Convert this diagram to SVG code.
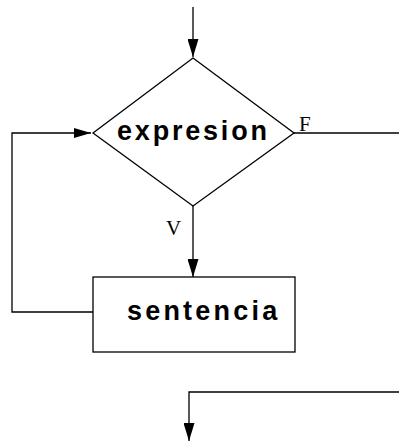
<svg xmlns="http://www.w3.org/2000/svg" width="399" height="444" viewBox="0 0 399 444">
<defs>
<style>
.ln{fill:none;stroke:#000;stroke-width:1.3}
.nd{fill:#fff;stroke:#000;stroke-width:1.3}
.lbl{font-family:"Liberation Sans",Arial,sans-serif;font-weight:bold;font-size:27px;fill:#000}
.tf{font-family:"Liberation Serif","Times New Roman",serif;font-size:21px;fill:#000}
</style>
<marker id="ah" viewBox="0 0 17 10" refX="17" refY="5" markerWidth="17" markerHeight="10" markerUnits="userSpaceOnUse" orient="auto">
<path d="M0,0 L17,5 L0,10 z" fill="#000"/>
</marker>
<marker id="ahv" viewBox="0 0 18 11" refX="18" refY="5.5" markerWidth="18" markerHeight="11" markerUnits="userSpaceOnUse" orient="auto">
<path d="M0,0 L18,5.5 L0,11 z" fill="#000"/>
</marker>
</defs>
<g id="connectors">
<line class="ln" x1="193" y1="7" x2="193" y2="57" marker-end="url(#ahv)"/>
<polyline class="ln" points="294,133 399,133"/>
<line class="ln" x1="193" y1="206" x2="193" y2="277" marker-end="url(#ahv)"/>
<polyline class="ln" points="93,312 12,312 12,133 91,133" marker-end="url(#ah)"/>
<polyline class="ln" points="399,392 189,392 189,441" marker-end="url(#ahv)"/>
</g>
<g id="decision">
<polygon class="nd" points="193,58 294,133 193,206 93,133"/>
<text class="lbl" x="117" y="140" letter-spacing="2.8">expresion</text>
</g>
<g id="labelF"><text class="tf" x="299" y="131">F</text></g>
<g id="labelV"><text class="tf" x="166" y="235">V</text></g>
<g id="sentencia">
<rect class="nd" x="93" y="277" width="202" height="75"/>
<text class="lbl" x="127" y="320" letter-spacing="3.2">sentencia</text>
</g>
</svg>
